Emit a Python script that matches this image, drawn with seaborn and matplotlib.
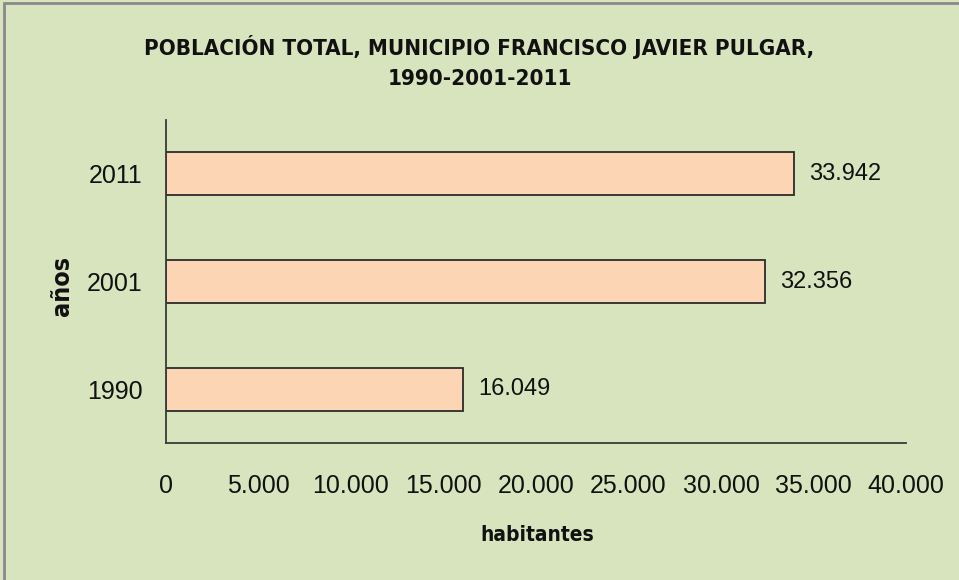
import matplotlib
matplotlib.use("Agg")
import matplotlib.pyplot as plt
from matplotlib import font_manager as fm
from matplotlib.patches import Rectangle
from matplotlib.ticker import FuncFormatter
import seaborn as sns
import pandas as pd

# Population of Francisco Javier Pulgar municipality by census year
years = ["2011", "2001", "1990"]
population = [33942, 32356, 16049]
x_ticks = [0, 5000, 10000, 15000, 20000, 25000, 30000, 35000, 40000]

title = "POBLACIÓN TOTAL, MUNICIPIO FRANCISCO JAVIER PULGAR,\n1990-2001-2011"
x_label = "habitantes"
y_label = "años"

BG = "#D7E4BD"
BAR = "#FCD5B4"
EDGE = "#2b2b2b"
INK = "#111111"

sns.set_theme(style="white")
plt.rcParams["font.family"] = ["Liberation Sans", "DejaVu Sans"]


def narrow_bold():
    """Return FontProperties for a condensed bold face if one is installed."""
    candidates = [("Liberation Sans Narrow", "normal"), ("Noto Sans", "condensed"),
                  ("DejaVu Sans", "condensed"), ("Roboto", "condensed"),
                  ("Open Sans", "condensed")]
    for fam, stretch in candidates:
        fp = fm.FontProperties(family=fam, weight="bold", stretch=stretch)
        try:
            path = fm.findfont(fp, fallback_to_default=False)
        except Exception:
            continue
        name = path.lower()
        if "narrow" in name or "condensed" in name:
            return fm.FontProperties(fname=path), True
    return fm.FontProperties(family="Liberation Sans", weight="bold"), False


bold_fp, is_narrow = narrow_bold()

df = pd.DataFrame({"year": years, "population": population})

fig = plt.figure(figsize=(9.59, 5.80), dpi=100, facecolor=BG)
ax = fig.add_axes([166 / 959, 1 - 443 / 580, 740 / 959, 323 / 580])
ax.set_facecolor(BG)

sns.barplot(data=df, x="population", y="year", order=years, orient="h",
            color=BAR, edgecolor=EDGE, linewidth=1.3, width=0.4,
            saturation=1, ax=ax)

fmt = lambda v: f"{int(v):,}".replace(",", ".")
ax.bar_label(ax.containers[0], labels=[fmt(v) for v in population],
             padding=11, fontsize=17, color=INK)

ax.set_xlim(0, 40000)
ax.set_ylim(2.5, -0.5)
ax.set_xticks(x_ticks)
ax.xaxis.set_major_formatter(FuncFormatter(lambda v, p: fmt(v)))

for s in ["top", "right"]:
    ax.spines[s].set_visible(False)
for s in ["left", "bottom"]:
    ax.spines[s].set_color("#3a3a3a")
    ax.spines[s].set_linewidth(1.3)

ax.tick_params(axis="x", direction="out", length=7, width=1.3, color="#3a3a3a",
               pad=15, labelsize=18, labelcolor=INK)
ax.tick_params(axis="y", length=0, pad=17, labelsize=18, labelcolor=INK)

ax.set_xlabel("")
ax.set_ylabel("")

title_size = 16 if is_narrow else 14
xlab_size = 15 if is_narrow else 14
ylab_size = 18 if is_narrow else 16

fig.text(537 / 959, 1 - 535 / 580, x_label, ha="center", va="center",
         fontproperties=bold_fp, fontsize=xlab_size, color=INK)
fig.text(62 / 959, 1 - 286 / 580, y_label, ha="center", va="center",
         rotation=90, fontproperties=bold_fp, fontsize=ylab_size, color=INK)
fig.text(0.5, 1 - 62 / 580, title, ha="center", va="center",
         fontproperties=bold_fp, fontsize=title_size, color=INK, linespacing=1.6)

# Outer frame of the chart area
fig.patches.append(Rectangle((4 / 959, -0.1), 1.2, 1 - 3 / 580 + 0.1,
                             transform=fig.transFigure, fill=False,
                             edgecolor="#8a8a8a", linewidth=2))

fig.savefig("out.png", dpi=100, facecolor=BG)
